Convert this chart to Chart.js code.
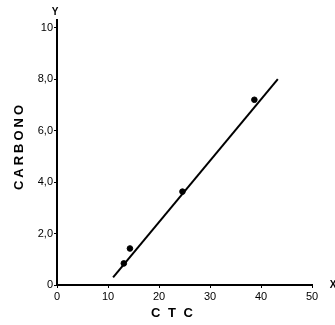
<!DOCTYPE html>
<html>
<head>
<meta charset="utf-8">
<script src="https://cdn.jsdelivr.net/npm/chart.js@4.4.1/dist/chart.umd.min.js"></script>
<style>
  html, body { margin: 0; padding: 0; background: #fff; }
  #wrap { width: 335px; height: 325px; }
</style>
</head>
<body>
<div id="wrap"><canvas id="ctcChart"></canvas></div>
<script>
// measured points (CTC, carbono)
const ctcValues = [13.1, 14.3, 24.6, 38.7];
const carbonoValues = [0.84, 1.42, 3.63, 7.2];

// fitted line ends
const lineX = [11, 43.3];
const lineY = [0.3, 8.0];

const xTicks = [0, 10, 20, 30, 40, 50];
const yTicks = [0, 2, 4, 6, 8, 10];
const yTickLabels = ['0', '2,0', '4,0', '6,0', '8,0', '10'];

const axisLetters = {
  id: 'axisLetters',
  afterDraw(chart) {
    const { ctx, chartArea } = chart;
    ctx.save();
    ctx.fillStyle = '#000';
    ctx.font = 'bold 10px "Liberation Sans", Arial, sans-serif';
    ctx.textAlign = 'center';
    ctx.textBaseline = 'middle';
    ctx.fillText('Y', chartArea.left - 2, 12);
    ctx.fillText('X', chartArea.right + 21, chartArea.bottom);

    ctx.font = 'bold 13px "Liberation Sans", Arial, sans-serif';
    ctx.letterSpacing = '2px';
    ctx.fillText('C T C', 173, 313);

    ctx.letterSpacing = '3px';
    ctx.translate(19, 146);
    ctx.rotate(-Math.PI / 2);
    ctx.fillText('CARBONO', 0, 0);
    ctx.restore();
  },
};

new Chart(document.getElementById('ctcChart'), {
  type: 'scatter',
  data: {
    datasets: [
      {
        data: ctcValues.map((x, i) => ({ x, y: carbonoValues[i] })),
        backgroundColor: '#000',
        borderColor: '#000',
        pointRadius: 2.8,
      },
      {
        type: 'line',
        data: lineX.map((x, i) => ({ x, y: lineY[i] })),
        borderColor: '#000',
        borderWidth: 2,
        pointRadius: 0,
        fill: false,
      },
    ],
  },
  options: {
    animation: false,
    responsive: true,
    maintainAspectRatio: false,
    layout: {
      padding: { top: 20, right: 23, left: 0, bottom: 0 },
    },
    plugins: {
      legend: { display: false },
      tooltip: { enabled: false },
    },
    scales: {
      x: {
        type: 'linear',
        min: 0,
        max: 50,
        afterBuildTicks: (scale) => {
          scale.ticks = xTicks.map((value) => ({ value }));
        },
        afterFit: (scale) => {
          scale.height = 40;
        },
        border: { display: true, color: '#000', width: 2 },
        grid: { drawOnChartArea: false, drawTicks: true, tickLength: 3, color: '#000' },
        ticks: {
          color: '#000',
          padding: 2,
          font: { family: '"Liberation Sans", Arial, sans-serif', size: 11 },
          callback: (value) => String(value),
        },
      },
      y: {
        type: 'linear',
        min: 0,
        max: 10.3,
        afterBuildTicks: (scale) => {
          scale.ticks = yTicks.map((value) => ({ value }));
        },
        afterFit: (scale) => {
          scale.width = 57;
        },
        border: { display: true, color: '#000', width: 2 },
        grid: { drawOnChartArea: false, drawTicks: true, tickLength: 3, color: '#000' },
        ticks: {
          color: '#000',
          padding: 1,
          font: { family: '"Liberation Sans", Arial, sans-serif', size: 11 },
          callback: (value) => yTickLabels[yTicks.indexOf(value)],
        },
      },
    },
  },
  plugins: [axisLetters],
});
</script>
</body>
</html>
